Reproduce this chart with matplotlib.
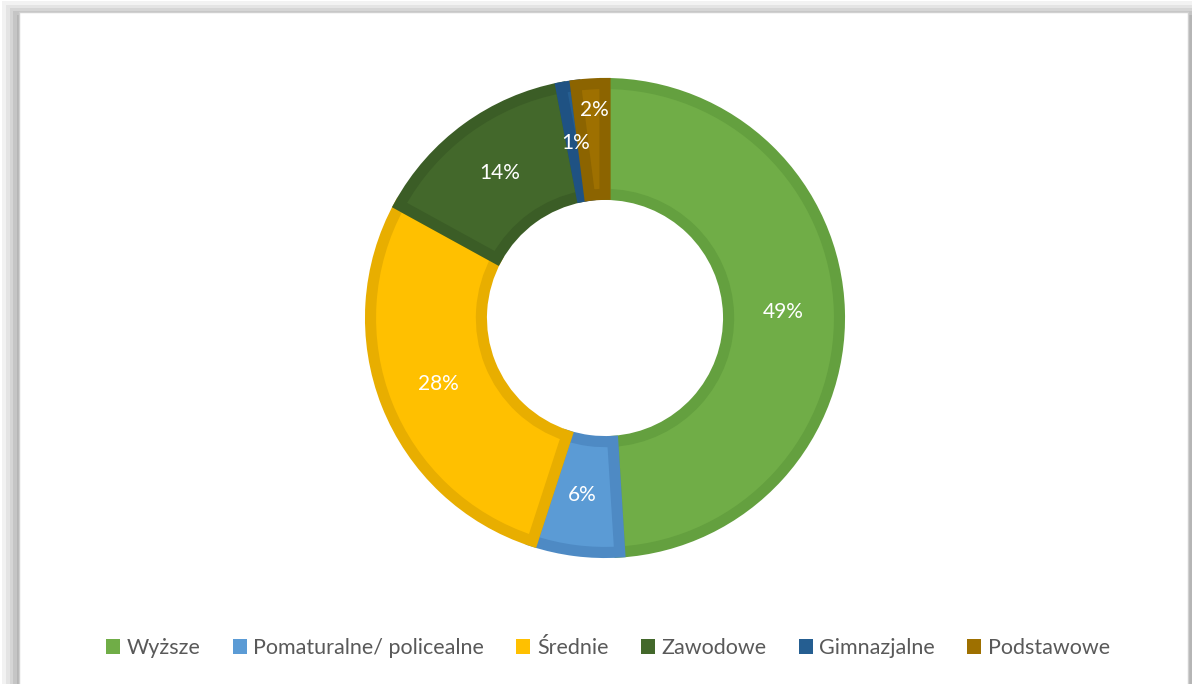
import matplotlib
matplotlib.use('Agg')
import matplotlib.pyplot as plt
from matplotlib.patches import Rectangle
import numpy as np

plt.rcParams['font.family'] = ['Lato', 'DejaVu Sans']

categories = ['Wyższe', 'Pomaturalne/ policealne', 'Średnie', 'Zawodowe', 'Gimnazjalne', 'Podstawowe']
values = [49, 6, 28, 14, 1, 2]
fills = ['#70AD47', '#5B9BD5', '#FFC000', '#43682B', '#255E91', '#9E7000']
edges = ['#64A03F', '#4E8AC4', '#E8AE00', '#3B5D26', '#1F5283', '#8C6400']

fig = plt.figure(figsize=(11.92, 6.84), dpi=100)

# shadow + chart frame
for i, a in enumerate([0.10, 0.12, 0.15, 0.18, 0.22]):
    d = i * 0.003
    fig.patches.append(Rectangle((0.002 + d, -0.1), 1.2, 1.1 - 0.002 - d * 1.6,
                                 transform=fig.transFigure, facecolor='#808080',
                                 alpha=a, edgecolor='none', zorder=0))
fig.patches.append(Rectangle((0.016, -0.1), 0.981, 1.083,
                             transform=fig.transFigure, facecolor='white',
                             edgecolor='#D0D0D0', linewidth=1, zorder=1))

ax2 = fig.add_axes([(605 - 240) / 1192, 1 - (318 + 240) / 684, 480 / 1192, 480 / 684])
ax2.set_zorder(3)
wedges, _ = ax2.pie(values, startangle=90, counterclock=False, colors=fills,
                    radius=0.977, wedgeprops=dict(width=0.977 - 0.515, linewidth=8, joinstyle='miter'))
for w, ec in zip(wedges, edges):
    w.set_edgecolor(ec)
ax2.set_xlim(-1, 1)
ax2.set_ylim(-1, 1)
ax2.set_aspect('auto')

label_r = [0.745, 0.745, 0.745, 0.745, 0.73, 0.87]
shift = [(0, 0), (0, 0), (0, 0), (0, 0), (-0.01, 0.01), (0.01, 0)]
start = 90
for v, r, s in zip(values, label_r, shift):
    mid = start - v / 2 * 3.6
    start -= v * 3.6
    x = r * np.cos(np.radians(mid)) + s[0]
    y = r * np.sin(np.radians(mid)) + s[1]
    ax2.text(x, y, f'{v}%', ha='center', va='center', color='white', fontsize=15)

handles = [Rectangle((0, 0), 1, 1, facecolor=c, edgecolor='none') for c in fills]
fig.legend(handles, categories, loc='center', bbox_to_anchor=(0.51, 1 - 648 / 684),
           ncol=6, frameon=False, fontsize=15.5, handlelength=0.65, handleheight=0.65,
           handletextpad=0.3, columnspacing=1.5, labelcolor='#595959')

fig.savefig('out.png', dpi=100)
